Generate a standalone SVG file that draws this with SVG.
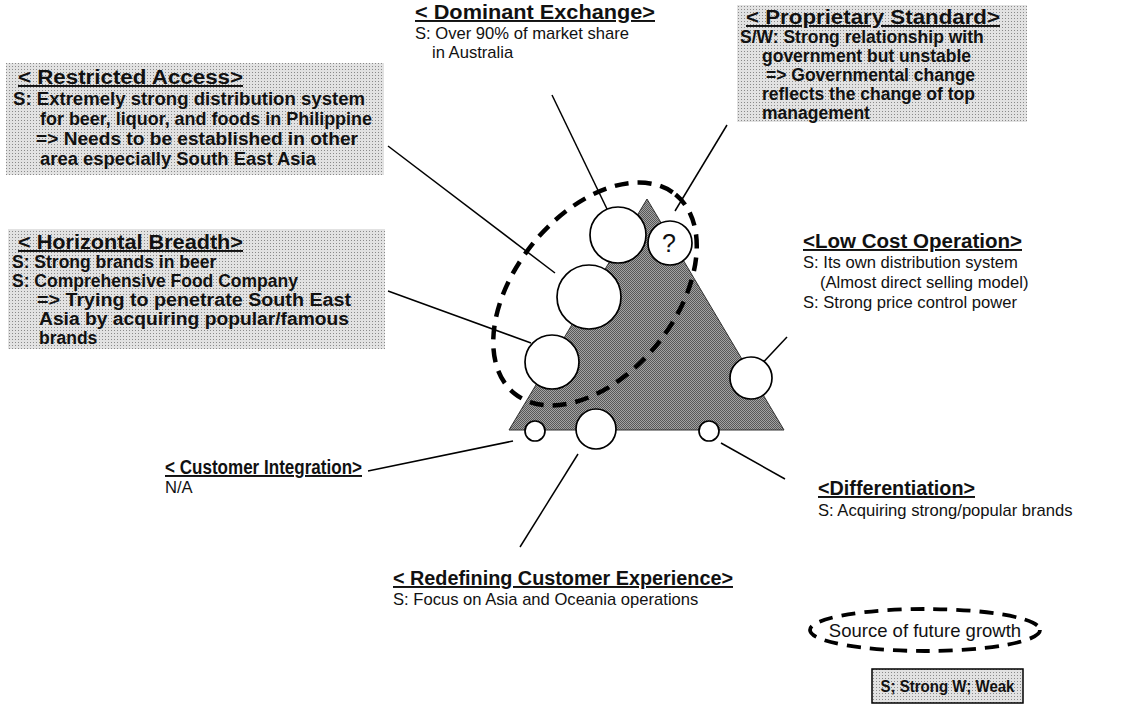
<svg xmlns="http://www.w3.org/2000/svg" width="1130" height="708" viewBox="0 0 1130 708">
<defs>
<pattern id="stipLight" width="3" height="3" patternUnits="userSpaceOnUse"><rect width="3" height="3" fill="#e2e2e2"/><rect width="1" height="1" fill="#8a8a8a"/></pattern>
<pattern id="stipDark" width="2" height="2" patternUnits="userSpaceOnUse"><rect width="2" height="2" fill="#a2a2a2"/><rect width="1" height="1" fill="#575757"/><rect x="1" y="1" width="1" height="1" fill="#575757"/></pattern>
</defs>
<style>
text{font-family:"Liberation Sans",Arial,sans-serif;fill:#111}
.t{font-weight:bold;font-size:19.5px;text-decoration:underline}
.b{font-size:16.6px}
.bb{font-weight:bold;font-size:17.5px}
.br{font-weight:bold;font-size:18px}
.box{fill:url(#stipLight)}
.circ{fill:#fff;stroke:#000;stroke-width:1.7}
.ln{stroke:#000;stroke-width:1.5;fill:none}
.dash{fill:none;stroke:#000;stroke-width:4.5;stroke-dasharray:14 9}
</style>
<rect width="1130" height="708" fill="#fff"/>

<g id="triangle">
<polygon points="647,199 509,430 784,430" fill="url(#stipDark)" stroke="#333" stroke-width="1"/>
</g>

<g id="connectors">
<line class="ln" x1="552" y1="95" x2="607" y2="209"/>
<line class="ln" x1="727" y1="125" x2="675" y2="211"/>
<line class="ln" x1="388" y1="146" x2="555" y2="273"/>
<line class="ln" x1="388" y1="291" x2="531" y2="343"/>
<line class="ln" x1="787" y1="337" x2="755" y2="371"/>
<line class="ln" x1="368" y1="471" x2="513" y2="441"/>
<line class="ln" x1="520" y1="547" x2="578" y2="454"/>
<line class="ln" x1="721" y1="443" x2="785" y2="479"/>
</g>

<g id="future-growth-ring">
<ellipse class="dash" cx="595" cy="294" rx="128" ry="80" transform="rotate(-51 595 294)"/>
</g>

<g id="node-dominant-circle"><circle class="circ" cx="618" cy="235" r="28"/></g>
<g id="node-proprietary-circle"><circle class="circ" cx="670" cy="243" r="22"/><text x="669" y="252" text-anchor="middle" style="font-size:25px">?</text></g>
<g id="node-restricted-circle"><circle class="circ" cx="589" cy="297" r="32"/></g>
<g id="node-horizontal-circle"><circle class="circ" cx="552" cy="362" r="27"/></g>
<g id="node-lowcost-circle"><circle class="circ" cx="751" cy="378" r="21"/></g>
<g id="node-customer-circle"><circle class="circ" cx="535" cy="431" r="10"/></g>
<g id="node-redefining-circle"><circle class="circ" cx="596" cy="429" r="20"/></g>
<g id="node-differentiation-circle"><circle class="circ" cx="709" cy="431" r="10"/></g>

<g id="node-dominant">
<text class="t" x="415" y="19" textLength="240" lengthAdjust="spacingAndGlyphs">&lt; Dominant Exchange&gt;</text>
<text class="b" x="415" y="39">S: Over 90% of market share</text>
<text class="b" x="432" y="58">in Australia</text>
</g>

<g id="node-proprietary">
<rect class="box" x="737" y="5" width="290" height="117"/>
<text class="t" x="746" y="24" textLength="254" lengthAdjust="spacingAndGlyphs">&lt; Proprietary Standard&gt;</text>
<text class="bb" x="740" y="43">S/W: Strong relationship with</text>
<text class="bb" x="762" y="62">government but unstable</text>
<text class="bb" x="766" y="81">=&gt; Governmental change</text>
<text class="bb" x="762" y="100">reflects the change of top</text>
<text class="bb" x="762" y="119">management</text>
</g>

<g id="node-restricted">
<rect class="box" x="6" y="63" width="378" height="112"/>
<text class="t" x="18" y="84" textLength="225" lengthAdjust="spacingAndGlyphs">&lt; Restricted Access&gt;</text>
<text class="br" x="13" y="105" textLength="352" lengthAdjust="spacingAndGlyphs">S: Extremely strong distribution system</text>
<text class="br" x="40" y="125" textLength="332" lengthAdjust="spacingAndGlyphs">for beer, liquor, and foods in Philippine</text>
<text class="br" x="36" y="145" textLength="322" lengthAdjust="spacingAndGlyphs">=&gt; Needs to be established in other</text>
<text class="br" x="40" y="165" textLength="276" lengthAdjust="spacingAndGlyphs">area especially South East Asia</text>
</g>

<g id="node-horizontal">
<rect class="box" x="8" y="229" width="377" height="120"/>
<text class="t" x="18" y="249" textLength="225" lengthAdjust="spacingAndGlyphs">&lt; Horizontal Breadth&gt;</text>
<text class="bb" x="12" y="268">S: Strong brands in beer</text>
<text class="bb" x="12" y="287">S: Comprehensive Food Company</text>
<text class="bb" x="37" y="306" textLength="314" lengthAdjust="spacingAndGlyphs">=&gt; Trying to penetrate South East</text>
<text class="bb" x="39" y="325" textLength="310" lengthAdjust="spacingAndGlyphs">Asia by acquiring popular/famous</text>
<text class="bb" x="39" y="344">brands</text>
</g>

<g id="node-lowcost">
<text class="t" x="803" y="248" textLength="219" lengthAdjust="spacingAndGlyphs">&lt;Low Cost Operation&gt;</text>
<text class="b" x="803" y="268">S: Its own distribution system</text>
<text class="b" x="820" y="288">(Almost direct selling model)</text>
<text class="b" x="803" y="308">S: Strong price control power</text>
</g>

<g id="node-customer">
<text class="t" x="165" y="474" textLength="197" lengthAdjust="spacingAndGlyphs">&lt; Customer Integration&gt;</text>
<text class="b" x="165" y="493">N/A</text>
</g>

<g id="node-redefining">
<text class="t" x="393" y="585" textLength="340" lengthAdjust="spacingAndGlyphs">&lt; Redefining Customer Experience&gt;</text>
<text class="b" x="393" y="605">S: Focus on Asia and Oceania operations</text>
</g>

<g id="node-differentiation">
<text class="t" x="818" y="495" textLength="157" lengthAdjust="spacingAndGlyphs">&lt;Differentiation&gt;</text>
<text class="b" x="818" y="516">S: Acquiring strong/popular brands</text>
</g>

<g id="legend-growth">
<ellipse class="dash" cx="925" cy="630" rx="115" ry="21" style="stroke-width:3.8"/>
<text x="925" y="637" text-anchor="middle" style="font-size:18.5px">Source of future growth</text>
</g>

<g id="legend-sw">
<rect class="box" x="872" y="669" width="151" height="34" stroke="#000" stroke-width="1.5"/>
<text x="947.5" y="692" text-anchor="middle" textLength="134" lengthAdjust="spacingAndGlyphs" style="font-size:16.5px;font-weight:bold">S; Strong  W; Weak</text>
</g>
</svg>
